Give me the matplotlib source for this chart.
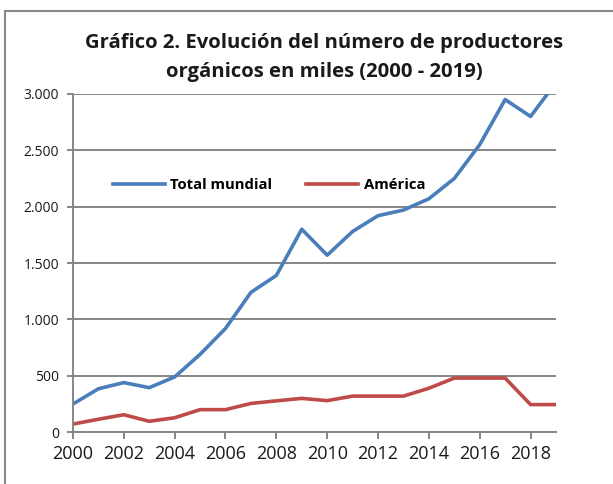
import matplotlib
matplotlib.use("Agg")
import matplotlib.pyplot as plt
from matplotlib.patches import Rectangle
from matplotlib.ticker import FuncFormatter

plt.rcParams['font.family'] = ['Open Sans', 'DejaVu Sans']

## Data (miles de productores)
years = list(range(2000, 2020))
total_mundial = [250, 385, 440, 395, 490, 690, 920, 1240, 1390, 1800,
                 1570, 1780, 1920, 1970, 2070, 2250, 2550, 2950, 2800, 3100]
america = [72, 115, 155, 97, 128, 200, 200, 255, 278, 300,
           280, 320, 320, 320, 390, 480, 480, 480, 245, 245]
xticks = list(range(2000, 2019, 2))
yticks = [0, 500, 1000, 1500, 2000, 2500, 3000]

grey = '#868686'

fig = plt.figure(figsize=(6.13, 4.84), dpi=100)
ax = fig.add_axes([0.119, 0.107, 0.788, 0.699])

# frame of the chart area
fig.patches.append(Rectangle((5 / 613, -0.1), 1.2, 1 - 11 / 484 + 0.1,
                             transform=fig.transFigure, fill=False,
                             edgecolor='#8a8a8a', linewidth=1.5))

ax.plot(years, total_mundial, color='#4a7ebb', linewidth=2.6, label='Total mundial',
        solid_joinstyle='round')
ax.plot(years, america, color='#be4b48', linewidth=2.6, label='América',
        solid_joinstyle='round')

ax.set_xlim(2000, 2019)
ax.set_ylim(0, 3000)
ax.set_xticks(xticks)
ax.set_yticks(yticks)
ax.yaxis.set_major_formatter(FuncFormatter(lambda v, p: f"{int(v):,}".replace(',', '.')))
ax.grid(axis='y', color=grey, linewidth=1.4)
ax.set_axisbelow(True)

for s in ['top', 'right']:
    ax.spines[s].set_visible(False)
for s in ['left', 'bottom']:
    ax.spines[s].set_color(grey)
    ax.spines[s].set_linewidth(1.4)

ax.tick_params(axis='x', labelsize=13, length=5, width=1.4, color=grey, pad=4,
               labelcolor='#1a1a1a')
ax.tick_params(axis='y', labelsize=10, length=4, width=1.4, color=grey, pad=6,
               labelcolor='#1a1a1a')

leg = ax.legend(loc='upper left', bbox_to_anchor=(0.055, 0.79), ncol=2, frameon=False,
                prop={'weight': 'bold', 'size': 10.7}, handlelength=3.5,
                columnspacing=2.3, handletextpad=0.35)

fig.text(0.529, 0.912, 'Gráfico 2. Evolución del número de productores',
         ha='center', va='center', fontsize=14.6, fontweight='bold', color='#1a1a1a')
fig.text(0.529, 0.852, 'orgánicos en miles (2000 - 2019)',
         ha='center', va='center', fontsize=14.6, fontweight='bold', color='#1a1a1a')

fig.savefig('out.png', dpi=100)
